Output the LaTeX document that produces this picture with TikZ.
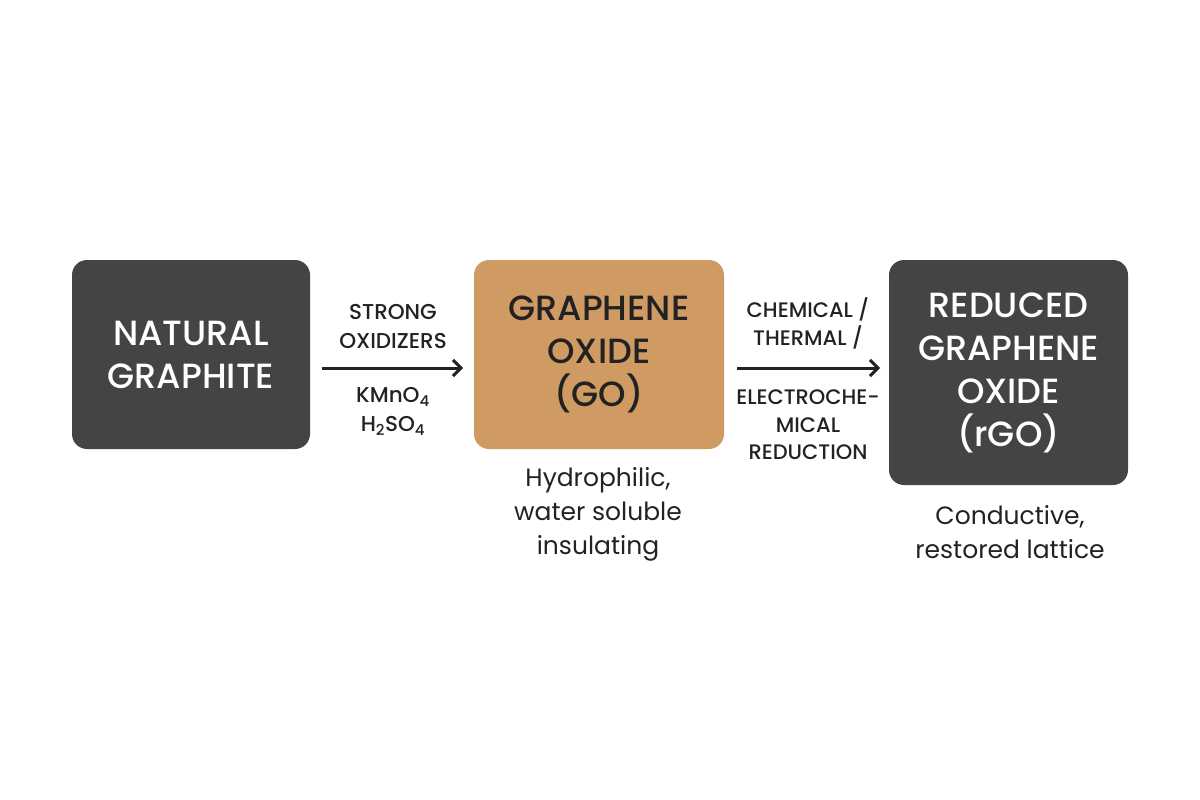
\documentclass[tikz,border=0pt]{standalone}
\usepackage{fontspec}
\setmainfont{Poppins}
\newfontfamily\medfont{Poppins}[UprightFont={* Medium}]
\usetikzlibrary{arrows.meta}
\definecolor{darkbox}{HTML}{444444}
\definecolor{tanbox}{HTML}{CF9B63}
\definecolor{ink}{HTML}{222222}
\begin{document}
\begin{tikzpicture}[x=1pt,y=-1pt,
  box/.style={rounded corners=15pt, inner sep=0pt, align=center, font=\medfont\fontsize{35}{43}\selectfont},
  lbl/.style={align=center, text=ink, font=\medfont\fontsize{21.5}{29}\selectfont, inner sep=0pt},
  lbltight/.style={lbl, font=\medfont\fontsize{21}{27.5}\selectfont},
  captxt/.style={align=center, text=ink, font=\fontsize{25}{34}\selectfont, inner sep=0pt},
  arr/.style={-{Straight Barb[length=8pt,width=16pt,line width=3pt]}, line width=3pt, draw=ink}]
\useasboundingbox (0,0) rectangle (1200,800);
\node[box, fill=darkbox, text=white, minimum width=238pt, minimum height=189pt] (ng) at (191,354.5) {NATURAL\\GRAPHITE};
\node[box, fill=tanbox, text=ink, minimum width=250pt, minimum height=189pt] (go) at (599,354.5) {\raisebox{-3pt}{\parbox{250pt}{\centering GRAPHENE\\OXIDE\\(GO)}}};
\node[box, fill=darkbox, text=white, minimum width=239pt, minimum height=225pt] (rgo) at (1008.5,372.5) {\raisebox{-4pt}{\parbox{239pt}{\centering REDUCED\\GRAPHENE\\OXIDE\\(rGO)}}};
\coordinate (a1s) at (322,368);
\coordinate (a1e) at (463,368);
\coordinate (a2s) at (737,368);
\coordinate (a2e) at (880,368);
\draw[arr] (a1s) -- (a1e);
\draw[arr] (a2s) -- (a2e);
\node[lbl, anchor=south] (l1) at (393,349) {STRONG\\OXIDIZERS};
\node[lbl, anchor=north] (l2) at (393,387) {KMnO\textsubscript{4}\\H\textsubscript{2}SO\textsubscript{4}};
\node[lbltight, anchor=south] (l3) at (808,349) {CHEMICAL /\\THERMAL /};
\node[lbltight, anchor=north] (l4) at (808,390) {ELECTROCHE-\\MICAL\\REDUCTION};
\node[captxt, anchor=north] (c1) at (598,467) {Hydrophilic,\\water soluble\\insulating};
\node[captxt, anchor=north] (c2) at (1010,505) {Conductive,\\restored lattice};
\end{tikzpicture}
\end{document}
